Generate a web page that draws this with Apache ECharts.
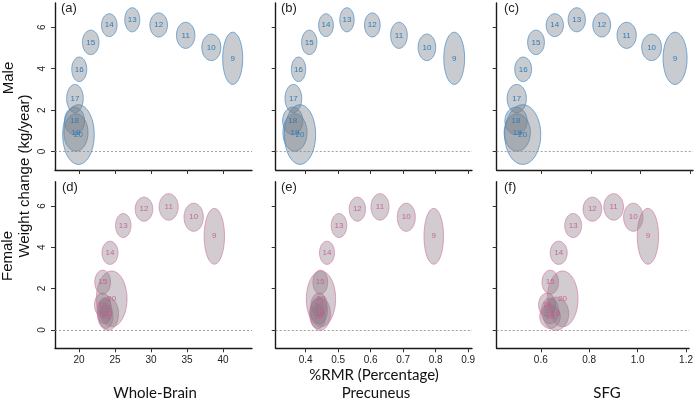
<!DOCTYPE html>
<html>
<head>
<meta charset="utf-8">
<script src="https://cdn.jsdelivr.net/npm/echarts@6/dist/echarts.min.js"></script>
<style>html,body{margin:0;padding:0;background:#fff;}#c{width:696px;height:404px;}</style>
</head>
<body>
<div id="c"></div>
<script>
// ---- data ----
const ages = ['9','10','11','12','13','14','15','16','17','18','19','20'];

const maleY   = [4.50, 5.03, 5.61, 6.11, 6.36, 6.10, 5.27, 3.97, 2.56, 1.48, 0.92, 0.82];
const maleSdY = [1.26, 0.64, 0.63, 0.58, 0.58, 0.55, 0.59, 0.59, 0.68, 0.66, 0.90, 1.44];
const femaleY   = [4.53, 5.45, 5.95, 5.84, 5.05, 3.73, 2.31, 1.21, 0.92, 0.65, 0.78, 1.50];
const femaleSdY = [1.35, 0.68, 0.64, 0.58, 0.58, 0.56, 0.58, 0.57, 0.62, 0.58, 0.80, 1.35];

const maleWholeBrainX   = [41.35, 38.38, 34.82, 31.07, 27.40, 24.21, 21.63, 20.04, 19.44, 19.38, 19.58, 19.93];
const maleWholeBrainSdX = [1.39, 1.32, 1.28, 1.22, 1.04, 1.08, 1.15, 1.04, 1.15, 1.39, 1.67, 2.19];
const malePrecuneusX    = [0.857, 0.773, 0.687, 0.605, 0.527, 0.4625, 0.411, 0.378, 0.362, 0.360, 0.367, 0.3825];
const malePrecuneusSdX  = [0.032, 0.027, 0.0256, 0.024, 0.0221, 0.0226, 0.0236, 0.022, 0.0256, 0.031, 0.037, 0.048];
const maleSfgX          = [1.140, 1.045, 0.944, 0.843, 0.742, 0.653, 0.577, 0.525, 0.499, 0.496, 0.501, 0.523];
const maleSfgSdX        = [0.0486, 0.040, 0.039, 0.036, 0.035, 0.035, 0.034, 0.034, 0.039, 0.045, 0.053, 0.073];

const femaleWholeBrainX   = [38.8, 35.93, 32.46, 29.03, 26.15, 24.31, 23.29, 23.26, 23.54, 23.75, 24.03, 24.54];
const femaleWholeBrainSdX = [1.41, 1.34, 1.32, 1.22, 1.07, 1.11, 1.09, 1.11, 1.04, 0.97, 1.46, 2.13];
const femalePrecuneusX    = [0.794, 0.7095, 0.6286, 0.559, 0.5025, 0.4655, 0.445, 0.441, 0.441, 0.438, 0.444, 0.447];
const femalePrecuneusSdX  = [0.030, 0.0277, 0.0277, 0.025, 0.024, 0.023, 0.0226, 0.0246, 0.026, 0.023, 0.032, 0.045];
const femaleSfgX          = [1.0425, 0.982, 0.901, 0.813, 0.7336, 0.674, 0.639, 0.626, 0.638, 0.638, 0.662, 0.690];
const femaleSfgSdX        = [0.044, 0.040, 0.0405, 0.0385, 0.035, 0.035, 0.034, 0.035, 0.036, 0.0425, 0.053, 0.0636];

const wholeBrainTicks = [20, 25, 30, 35, 40];
const precuneusTicks  = [0.4, 0.5, 0.6, 0.7, 0.8, 0.9];
const sfgTicks        = [0.6, 0.8, 1.0, 1.2];
const yTicks          = [0, 2, 4, 6];
const panelLetters = ['(a)', '(b)', '(c)', '(d)', '(e)', '(f)'];
const regionNames = ['Whole-Brain', 'Precuneus', 'SFG'];

// ---- layout ----
const colLeft = [55, 275.7, 496.7];
const colWidth = [197, 196.3, 196.3];
const rowTop = [3, 181.7];
const rowHeight = [167, 166.6];
const xRanges = [[16.67, 44.03], [0.3077, 0.9117], [0.4178, 1.2126]];
const xTickSets = [wholeBrainTicks, precuneusTicks, sfgTicks];
const yRange = [-0.89, 7.17];

const panels = [
  {x: maleWholeBrainX, sx: maleWholeBrainSdX, y: maleY, sy: maleSdY, sex: 'm'},
  {x: malePrecuneusX, sx: malePrecuneusSdX, y: maleY, sy: maleSdY, sex: 'm'},
  {x: maleSfgX, sx: maleSfgSdX, y: maleY, sy: maleSdY, sex: 'm'},
  {x: femaleWholeBrainX, sx: femaleWholeBrainSdX, y: femaleY, sy: femaleSdY, sex: 'f'},
  {x: femalePrecuneusX, sx: femalePrecuneusSdX, y: femaleY, sy: femaleSdY, sex: 'f'},
  {x: femaleSfgX, sx: femaleSfgSdX, y: femaleY, sy: femaleSdY, sex: 'f'}
];

const styles = {
  m: {fill: 'rgba(118,124,136,0.40)', stroke: 'rgba(70,140,200,0.9)', text: '#2f7cb9'},
  f: {fill: 'rgba(138,118,128,0.38)', stroke: 'rgba(210,120,165,0.85)', text: 'rgba(200,90,150,0.9)'}
};

const grids = [], xAxes = [], yAxes = [], series = [];
for (let i = 0; i < 6; i++) {
  const r = Math.floor(i / 3), c = i % 3;
  grids.push({left: colLeft[c], top: rowTop[r], width: colWidth[c], height: rowHeight[r]});
  xAxes.push({
    type: 'value', gridIndex: i, min: xRanges[c][0], max: xRanges[c][1],
    axisLine: {show: true, onZero: false, lineStyle: {color: '#1a1a1a', width: 1.4}},
    axisTick: {show: true, customValues: xTickSets[c], length: 4, lineStyle: {color: '#333', width: 1}},
    axisLabel: {show: r === 1, customValues: xTickSets[c], margin: 7, color: '#222',
      fontFamily: 'Liberation Sans', fontSize: 10,
      formatter: v => c === 0 ? String(Math.round(v)) : v.toFixed(1)},
    splitLine: {show: false}
  });
  yAxes.push({
    type: 'value', gridIndex: i, min: yRange[0], max: yRange[1],
    axisLine: {show: true, onZero: false, lineStyle: {color: '#1a1a1a', width: 1.4}},
    axisTick: {show: true, customValues: yTicks, length: 4, lineStyle: {color: '#333', width: 1}},
    axisLabel: {show: c === 0, customValues: yTicks, rotate: 90, margin: 8, color: '#222',
      fontFamily: 'Liberation Sans', fontSize: 10, formatter: v => String(Math.round(v))},
    splitLine: {show: false}
  });
  const p = panels[i];
  const st = styles[p.sex];
  const data = ages.map((a, k) => [p.x[k], p.y[k], p.sx[k], p.sy[k], k]);
  series.push({
    type: 'custom', xAxisIndex: i, yAxisIndex: i, data: data, clip: false, z: 2,
    renderItem: function (params, api) {
      const ctr = api.coord([api.value(0), api.value(1)]);
      const sz = api.size([api.value(2), api.value(3)]);
      const pts = [];
      for (let t = 0; t < 72; t++) {
        const ang = t / 72 * Math.PI * 2;
        pts.push([ctr[0] + sz[0] * Math.cos(ang), ctr[1] + sz[1] * Math.sin(ang)]);
      }
      return {type: 'polygon', shape: {points: pts},
        style: {fill: st.fill, stroke: st.stroke, lineWidth: 0.8}};
    },
    markLine: {
      silent: true, symbol: 'none', label: {show: false},
      lineStyle: {color: '#888', type: [2, 2], width: 0.8},
      data: [{yAxis: 0}]
    }
  });
  series.push({
    type: 'custom', xAxisIndex: i, yAxisIndex: i, data: data, clip: false, z: 3,
    renderItem: function (params, api) {
      const ctr = api.coord([api.value(0), api.value(1)]);
      return {type: 'text', x: ctr[0], y: ctr[1],
        style: {text: ages[api.value(4)], fill: st.text, font: '8px "Liberation Sans"',
          align: 'center', verticalAlign: 'middle'}};
    }
  });
}

const letterPos = [[61, 8], [281, 8], [504, 8], [62, 187], [281, 187], [504, 187]];
const graphics = [];
panelLetters.forEach((t, i) => {
  graphics.push({type: 'text', x: letterPos[i][0], y: letterPos[i][1],
    style: {text: t, font: '13px "Liberation Sans"', fill: '#222', verticalAlign: 'middle'}});
});
graphics.push({type: 'text', x: 9, y: 78, rotation: Math.PI / 2,
  style: {text: 'Male', font: '15px "Liberation Sans"', fill: '#111', align: 'center', verticalAlign: 'middle'}});
graphics.push({type: 'text', x: 8, y: 256, rotation: Math.PI / 2,
  style: {text: 'Female', font: '15px "Liberation Sans"', fill: '#111', align: 'center', verticalAlign: 'middle'}});
graphics.push({type: 'text', x: 25, y: 176, rotation: Math.PI / 2,
  style: {text: 'Weight change (kg/year)', font: '15px "Liberation Sans"', fill: '#111', align: 'center', verticalAlign: 'middle'}});
graphics.push({type: 'text', x: 374, y: 375,
  style: {text: '%RMR (Percentage)', font: '15px Lato', fill: '#111', align: 'center', verticalAlign: 'middle'}});
const regionX = [155, 376, 607];
regionNames.forEach((t, i) => {
  graphics.push({type: 'text', x: regionX[i], y: 393,
    style: {text: t, font: '15px Lato', fill: '#111', align: 'center', verticalAlign: 'middle'}});
});

const chart = echarts.init(document.getElementById('c'), null, {renderer: 'canvas'});
chart.setOption({
  backgroundColor: '#fff',
  animation: false,
  grid: grids, xAxis: xAxes, yAxis: yAxes, series: series,
  graphic: graphics
});
</script>
</body>
</html>
